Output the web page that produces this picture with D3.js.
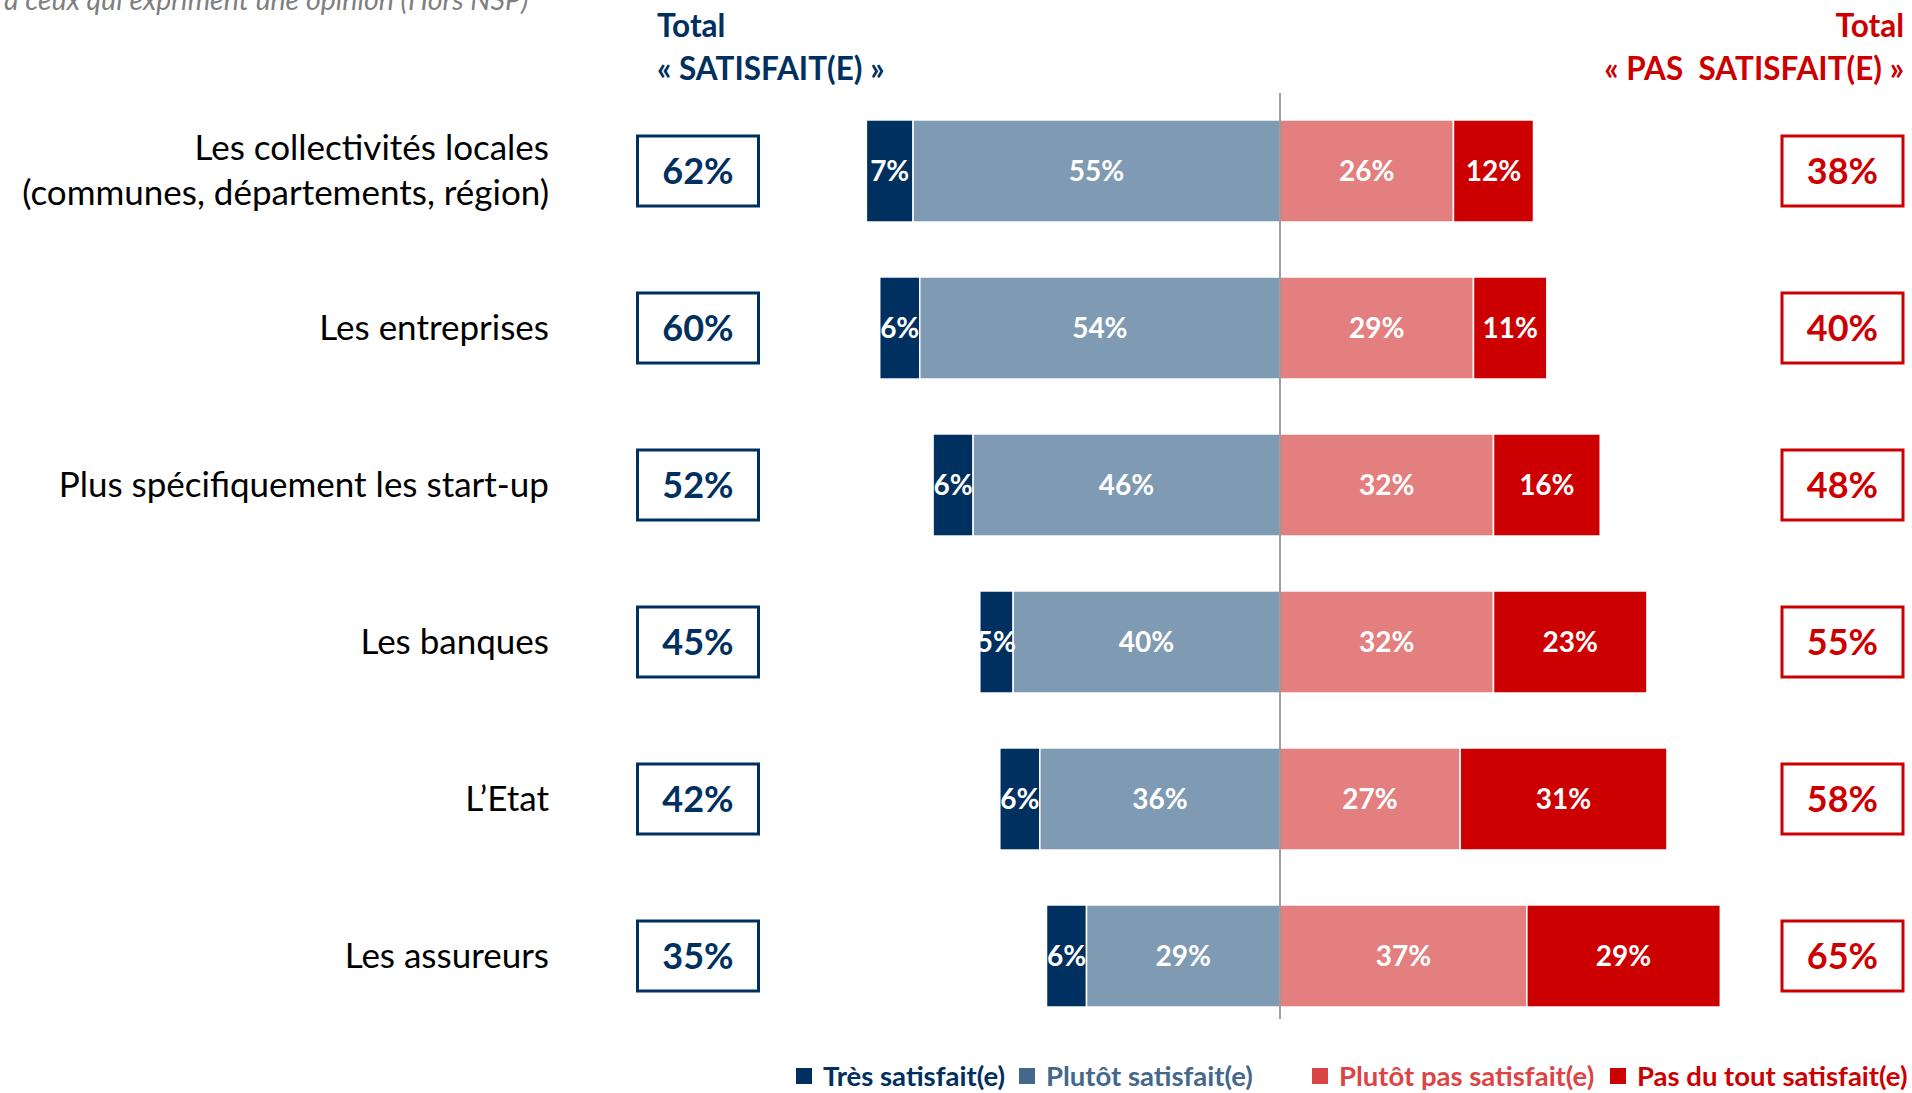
<!DOCTYPE html>
<html>
<head>
<meta charset="utf-8">
<script src="https://cdn.jsdelivr.net/npm/d3@7"></script>
<style>
  body { margin: 0; background: #fff; }
  svg { display: block; font-family: Lato, "Open Sans", sans-serif; }
</style>
</head>
<body>
<svg width="1912" height="1093"></svg>
<script>
// data
var categories = [
    ['Les collectivités locales', '(communes, départements, région)'],
    ['Les entreprises'],
    ['Plus spécifiquement les start-up'],
    ['Les banques'],
    ['L’Etat'],
    ['Les assureurs']
];
var tresSatisfait = [7, 6, 6, 5, 6, 6];
var plutotSatisfait = [55, 54, 46, 40, 36, 29];
var plutotPasSatisfait = [26, 29, 32, 32, 27, 37];
var pasDuToutSatisfait = [12, 11, 16, 23, 31, 29];
var totalSatisfait = [62, 60, 52, 45, 42, 35];
var totalPasSatisfait = [38, 40, 48, 55, 58, 65];
var seriesNames = ['Très satisfait(e)', 'Plutôt satisfait(e)', 'Plutôt pas satisfait(e)', 'Pas du tout satisfait(e)'];

var navy = '#00305f', blueGrey = '#7f9ab3', pink = '#e37f7f', red = '#cc0000';
var barColors = [navy, blueGrey, pink, red];
var legendColors = ['#00305f', '#44678c', '#dc4545', '#cc0000'];

var svg = d3.select('svg');
var center = 1280;

var x = d3.scaleLinear()
    .domain([-70, 70])
    .range([center - 467, center + 467]);

var keys = categories.map(function(d, i) { return i; });
var y = d3.scaleBand()
    .domain(keys)
    .range([92.5, 1034.5])
    .paddingInner(0.35)
    .paddingOuter(0.175);

// build segments: left side stacks outward from the centre
var rows = keys.map(function(i) {
    var a = tresSatisfait[i], b = plutotSatisfait[i], c = plutotPasSatisfait[i], d = pasDuToutSatisfait[i];
    return [
        {i: i, s: 0, x0: -(a + b), x1: -b, v: a},
        {i: i, s: 1, x0: -b, x1: 0, v: b},
        {i: i, s: 2, x0: 0, x1: c, v: c},
        {i: i, s: 3, x0: c, x1: c + d, v: d}
    ];
});
var segments = d3.merge(rows);

// subtitle cut at the top
svg.append('text')
    .attr('x', 4)
    .attr('y', 10)
    .attr('font-size', 28.5)
    .attr('font-style', 'italic')
    .attr('fill', '#7f7f7f')
    .text('à ceux qui expriment une opinion (Hors NSP)');

// headers
var hdrL = svg.append('text').attr('font-weight', 'bold').attr('font-size', 31.5).attr('fill', navy);
hdrL.append('tspan').attr('x', 657).attr('y', 37).text('Total');
hdrL.append('tspan').attr('x', 657).attr('y', 80).text('« SATISFAIT(E) »');

var hdrR = svg.append('text').attr('font-weight', 'bold').attr('font-size', 31.5).attr('fill', red)
    .attr('text-anchor', 'end');
hdrR.append('tspan').attr('x', 1904).attr('y', 37).text('Total');
hdrR.append('tspan').attr('x', 1904).attr('y', 80).text('« PAS\u00a0 SATISFAIT(E) »');

// bars
svg.selectAll('.seg')
    .data(segments)
    .enter()
    .append('rect')
    .attr('class', 'seg')
    .attr('x', function(d) { return x(d.x0); })
    .attr('width', function(d) { return x(d.x1) - x(d.x0); })
    .attr('y', function(d) { return y(d.i); })
    .attr('height', y.bandwidth())
    .attr('fill', function(d) { return barColors[d.s]; })
    .attr('stroke', '#fff')
    .attr('stroke-width', 1.5);

svg.selectAll('.seg-label')
    .data(segments)
    .enter()
    .append('text')
    .attr('class', 'seg-label')
    .attr('x', function(d) { return (x(d.x0) + x(d.x1)) / 2; })
    .attr('y', function(d) { return y(d.i) + y.bandwidth() / 2; })
    .attr('dy', '0.36em')
    .attr('text-anchor', 'middle')
    .attr('font-size', 28)
    .attr('font-weight', 'bold')
    .attr('fill', '#fff')
    .text(function(d) { return d.v + '%'; });

// centre line
svg.append('line')
    .attr('x1', x(0)).attr('x2', x(0))
    .attr('y1', 93).attr('y2', 1019)
    .attr('stroke', '#808080')
    .attr('stroke-width', 1.5);

// category labels
var catLabels = svg.selectAll('.cat')
    .data(categories)
    .enter()
    .append('text')
    .attr('class', 'cat')
    .attr('text-anchor', 'end')
    .attr('font-size', 35)
    .attr('fill', '#000');

catLabels.each(function(lines, i) {
    var t = d3.select(this);
    var cy = y(i) + y.bandwidth() / 2;
    var start = cy - (lines.length - 1) * 23;
    lines.forEach(function(line, j) {
        t.append('tspan')
            .attr('x', 549)
            .attr('y', start + j * 45)
            .attr('dy', '0.34em')
            .text(line);
    });
});

// total boxes
function totalBoxes(values, bx, color, cls) {
    var g = svg.selectAll('.' + cls)
        .data(values)
        .enter()
        .append('g')
        .attr('class', cls)
        .attr('transform', function(d, i) {
            return 'translate(' + [bx, y(i) + y.bandwidth() / 2] + ')';
        });
    g.append('rect')
        .attr('x', 0).attr('y', -35)
        .attr('width', 121).attr('height', 70)
        .attr('fill', '#fff')
        .attr('stroke', color)
        .attr('stroke-width', 3);
    g.append('text')
        .attr('x', 60.5).attr('y', 0)
        .attr('dy', '0.36em')
        .attr('text-anchor', 'middle')
        .attr('font-size', 36)
        .attr('font-weight', 'bold')
        .attr('fill', color)
        .text(function(d) { return d + '%'; });
}
totalBoxes(totalSatisfait, 637.5, navy, 'tot-l');
totalBoxes(totalPasSatisfait, 1782, red, 'tot-r');

// legend
var legendX = [796, 1019, 1312, 1610];
var legend = svg.selectAll('.legend')
    .data(seriesNames)
    .enter()
    .append('g')
    .attr('class', 'legend')
    .attr('transform', function(d, i) { return 'translate(' + [legendX[i], 1076] + ')'; });
legend.append('rect')
    .attr('x', 0).attr('y', -8)
    .attr('width', 16).attr('height', 16)
    .attr('fill', function(d, i) { return legendColors[i]; });
legend.append('text')
    .attr('x', 27).attr('y', 0)
    .attr('dy', '0.36em')
    .attr('font-size', 27.5)
    .attr('font-weight', 'bold')
    .attr('fill', function(d, i) { return legendColors[i]; })
    .text(function(d) { return d; });
</script>
</body>
</html>
